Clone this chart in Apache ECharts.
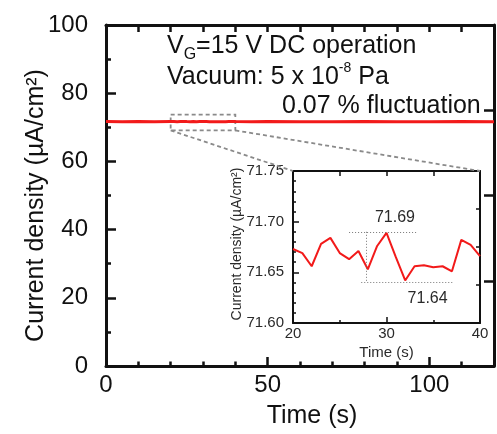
<!DOCTYPE html>
<html>
<head>
<meta charset="utf-8">
<script src="https://cdn.jsdelivr.net/npm/echarts@6/dist/echarts.min.js"></script>
<style>html,body{margin:0;padding:0;background:#fff}#c{width:497px;height:434px}</style>
</head>
<body>
<div id="c"></div>
<script>
// ---- data ----
const mainTimes  = [0, 5, 10, 15, 20, 21, 22, 23, 24, 25, 26, 27, 28, 29, 30, 31, 32, 33, 34, 35, 36, 37, 38, 39, 40, 45, 50, 60, 70, 80, 90, 100, 110, 120];
const mainValues = [71.67, 71.66, 71.67, 71.66, 71.673, 71.669, 71.656, 71.678, 71.684, 71.669, 71.663, 71.671, 71.653, 71.676, 71.689, 71.665, 71.642, 71.656, 71.657, 71.655, 71.656, 71.651, 71.682, 71.677, 71.666, 71.66, 71.67, 71.66, 71.66, 71.67, 71.66, 71.66, 71.67, 71.66];
const insetTimes  = [20, 21, 22, 23, 24, 25, 26, 27, 28, 29, 30, 31, 32, 33, 34, 35, 36, 37, 38, 39, 40];
const insetValues = [71.673, 71.669, 71.656, 71.678, 71.684, 71.669, 71.663, 71.671, 71.653, 71.676, 71.689, 71.665, 71.642, 71.656, 71.657, 71.655, 71.656, 71.651, 71.682, 71.677, 71.666];
const xTickLabels = ['0', '50', '100'];
const yTickLabels = ['0', '20', '40', '60', '80', '100'];
const insetXTickLabels = ['20', '30', '40'];
const insetYTickLabels = ['71.60', '71.65', '71.70', '71.75'];
const zoomBoxTimes = [20, 40];
const zoomBoxValues = [69.1, 73.7];
const maxMark = [30.9, 71.704];   // label position for the max value
const minMark = [34.4, 71.6245];  // label position for the min value
const maxLabel = '71.69';
const minLabel = '71.64';
const refMaxLine = [[26, 71.69], [33.2, 71.69]];
const refMinLine = [[27.3, 71.64], [37.1, 71.64]];
const refVLine = [[27.8, 71.69], [27.8, 71.64]];

const FONT = '"Liberation Sans", Arial, Helvetica, sans-serif';
const BLACK = '#111';
const GREY_TXT = '#2a2a2a';
const RED = '#f21a1a';

const chart = echarts.init(document.getElementById('c'), null, {renderer: 'canvas'});

function ax(o) {
  return Object.assign({
    type: 'value',
    splitLine: {show: false},
    nameMoveOverlap: false,
    axisLine: {onZero: false, lineStyle: {color: BLACK, width: 3}},
    axisTick: {inside: true, length: 9, lineStyle: {color: BLACK, width: 2.5}},
    axisLabel: {show: false}
  }, o);
}

const option = {
  animation: false,
  backgroundColor: '#fff',
  grid: [
    {left: 106, top: 25, width: 396, height: 342},
    {left: 293, top: 171, width: 187, height: 152}
  ],
  xAxis: [
    ax({gridIndex: 0, position: 'bottom', min: 0, max: 120, interval: 50,
        axisLabel: {show: true, margin: 7, fontSize: 24, color: BLACK, fontFamily: FONT,
          formatter: v => xTickLabels.includes(String(v)) ? String(v) : ''},
        name: 'Time (s)', nameLocation: 'middle', nameGap: 38,
        nameTextStyle: {fontSize: 25, color: BLACK, fontFamily: FONT, padding: [0, 0, 0, 24]}}),
    ax({gridIndex: 0, position: 'bottom', min: 0, max: 120, interval: 10,
        axisLine: {show: false, onZero: false},
        axisTick: {inside: true, length: 4.5, lineStyle: {color: BLACK, width: 2.5}}}),
    ax({gridIndex: 0, position: 'top', min: 0, max: 120, interval: 10,
        axisTick: {inside: true, length: 7, lineStyle: {color: BLACK, width: 2.5}}}),
    ax({gridIndex: 1, position: 'bottom', min: 20, max: 40, interval: 10,
        axisLine: {onZero: false, lineStyle: {color: BLACK, width: 2}},
        axisTick: {inside: true, length: 6, lineStyle: {color: BLACK, width: 1.5}},
        minorTick: {show: true, splitNumber: 2, length: 3, lineStyle: {color: BLACK, width: 1.5}},
        axisLabel: {show: true, margin: 3, fontSize: 15, color: GREY_TXT, fontFamily: FONT,
          formatter: v => insetXTickLabels.includes(String(v)) ? String(v) : ''},
        name: 'Time (s)', nameLocation: 'middle', nameGap: 22,
        nameTextStyle: {fontSize: 15, color: GREY_TXT, fontFamily: FONT}}),
    ax({gridIndex: 1, position: 'top', min: 20, max: 40, interval: 5,
        axisLine: {onZero: false, lineStyle: {color: BLACK, width: 2}},
        axisTick: {inside: true, length: 5, lineStyle: {color: BLACK, width: 1.5}}})
  ],
  yAxis: [
    ax({gridIndex: 0, position: 'left', min: 0, max: 100, interval: 20,
        axisTick: {inside: true, length: 10, lineStyle: {color: BLACK, width: 2.5}},
        minorTick: {show: true, splitNumber: 2, length: 5, lineStyle: {color: BLACK, width: 2.5}},
        axisLabel: {show: true, margin: 18, fontSize: 24, color: BLACK, fontFamily: FONT, padding: [0, 0, 6, 0],
          formatter: v => yTickLabels.includes(String(v)) ? String(v) : ''},
        name: 'Current density (µA/cm²)', nameLocation: 'middle', nameRotate: 90, nameGap: 57,
        nameTextStyle: {fontSize: 25, color: BLACK, fontFamily: FONT, padding: [0, 20, 0, 0]}}),
    ax({gridIndex: 0, position: 'right', min: 0, max: 100, interval: 25,
        axisTick: {inside: true, length: 10, lineStyle: {color: BLACK, width: 2.5}}}),
    ax({gridIndex: 1, position: 'left', min: 71.60, max: 71.75, interval: 0.05,
        axisLine: {onZero: false, lineStyle: {color: BLACK, width: 2}},
        axisTick: {inside: true, length: 6, lineStyle: {color: BLACK, width: 1.5}},
        minorTick: {show: true, splitNumber: 5, length: 3, lineStyle: {color: BLACK, width: 1.5}},
        axisLabel: {show: true, margin: 9, fontSize: 15, color: GREY_TXT, fontFamily: FONT,
          formatter: v => { const s = Number(v).toFixed(2); return insetYTickLabels.includes(s) ? s : ''; }},
        name: 'Current density (µA/cm²)', nameLocation: 'middle', nameRotate: 90, nameGap: 49,
        nameTextStyle: {fontSize: 14, color: GREY_TXT, fontFamily: FONT, padding: [0, 0, 0, 6]}}),
    ax({gridIndex: 1, position: 'right', min: 0, max: 4, interval: 1,
        axisLine: {onZero: false, lineStyle: {color: BLACK, width: 2}},
        axisTick: {inside: true, length: 4, lineStyle: {color: BLACK, width: 1.5}}})
  ],
  series: [
    {type: 'line', xAxisIndex: 0, yAxisIndex: 0, showSymbol: false, symbol: 'none',
     data: mainTimes.map((t, i) => [t, mainValues[i]]),
     lineStyle: {color: RED, width: 3}, z: 3},
    {type: 'line', xAxisIndex: 3, yAxisIndex: 2, showSymbol: false, symbol: 'none',
     data: insetTimes.map((t, i) => [t, insetValues[i]]),
     lineStyle: {color: RED, width: 2}, z: 3,
     markLine: {silent: true, symbol: 'none', label: {show: false},
       lineStyle: {color: '#777', width: 1, type: [1, 2]},
       data: [
         [{coord: refMaxLine[0]}, {coord: refMaxLine[1]}],
         [{coord: refMinLine[0]}, {coord: refMinLine[1]}],
         [{coord: refVLine[0]}, {coord: refVLine[1]}]
       ]}}
  ]
};
chart.setOption(option);

const p0 = pt => chart.convertToPixel({seriesIndex: 0}, pt);
const p1 = pt => chart.convertToPixel({seriesIndex: 1}, pt);
const tl = p0([zoomBoxTimes[0], zoomBoxValues[1]]);
const br = p0([zoomBoxTimes[1], zoomBoxValues[0]]);
const il = p1([20, 71.75]);
const ir = p1([40, 71.75]);
const mx = p1(maxMark);
const mn = p1(minMark);
const dash = {stroke: '#8a8a8a', lineWidth: 1.8, lineDash: [4, 3], fill: null};

chart.setOption({
  graphic: [
    {type: 'rect', z: 1, shape: {x: tl[0], y: tl[1], width: br[0] - tl[0], height: br[1] - tl[1]}, style: Object.assign({}, dash, {fill: 'none'})},
    {type: 'line', z: 1, shape: {x1: tl[0], y1: br[1], x2: il[0], y2: il[1]}, style: dash},
    {type: 'line', z: 1, shape: {x1: br[0], y1: br[1], x2: ir[0], y2: ir[1]}, style: dash},
    {type: 'text', z: 10, x: mx[0], y: mx[1], style: {text: maxLabel, fontSize: 16, fontFamily: FONT, fill: GREY_TXT, align: 'center', verticalAlign: 'middle'}},
    {type: 'text', z: 10, x: mn[0], y: mn[1], style: {text: minLabel, fontSize: 16, fontFamily: FONT, fill: GREY_TXT, align: 'center', verticalAlign: 'middle'}},
    {type: 'text', z: 10, x: 167, y: 30.3, style: {
      text: '{n|V}{s|G}{n|=15 V DC operation}', align: 'left', verticalAlign: 'top',
      rich: {n: {fontSize: 25, lineHeight: 32, fontFamily: FONT, fill: BLACK},
             s: {fontSize: 16, lineHeight: 12, fontFamily: FONT, fill: BLACK, verticalAlign: 'bottom'}}}},
    {type: 'text', z: 10, x: 167, y: 61.3, style: {
      text: '{n|Vacuum: 5 x 10}{p|-8}{n| Pa}', align: 'left', verticalAlign: 'top',
      rich: {n: {fontSize: 25, lineHeight: 32, fontFamily: FONT, fill: BLACK},
             p: {fontSize: 14, lineHeight: 18, fontFamily: FONT, fill: BLACK, verticalAlign: 'top'}}}},
    {type: 'text', z: 10, x: 282, y: 106.3, style: {text: '0.07 % fluctuation', fontSize: 25, fontFamily: FONT, fill: BLACK, align: 'left', verticalAlign: 'middle'}}
  ]
});
</script>
</body>
</html>
